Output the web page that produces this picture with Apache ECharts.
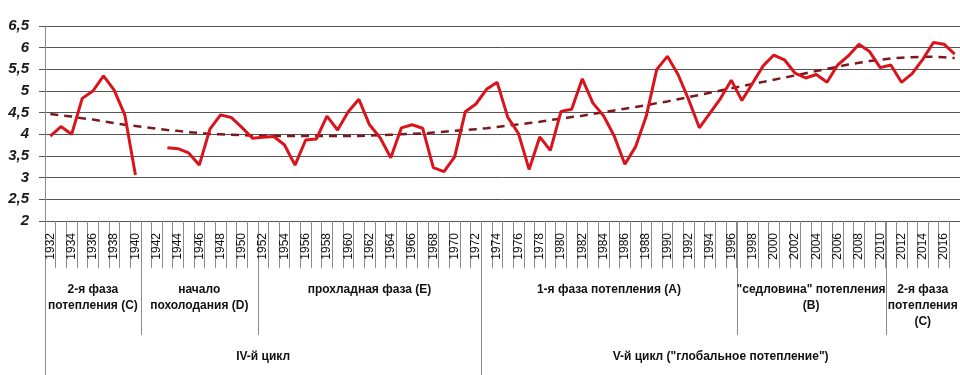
<!DOCTYPE html>
<html><head><meta charset="utf-8">
<script src="https://cdn.jsdelivr.net/npm/echarts@6/dist/echarts.min.js"></script>
<style>html,body{margin:0;padding:0;background:#fff}#c{width:960px;height:375px}</style>
</head><body><div id="c"></div>
<script>
const years = ['1932','1933','1934','1935','1936','1937','1938','1939','1940','1941','1942','1943','1944','1945','1946','1947','1948','1949','1950','1951','1952','1953','1954','1955','1956','1957','1958','1959','1960','1961','1962','1963','1964','1965','1966','1967','1968','1969','1970','1971','1972','1973','1974','1975','1976','1977','1978','1979','1980','1981','1982','1983','1984','1985','1986','1987','1988','1989','1990','1991','1992','1993','1994','1995','1996','1997','1998','1999','2000','2001','2002','2003','2004','2005','2006','2007','2008','2009','2010','2011','2012','2013','2014','2015','2016','2017'];
const values = [3.96,4.18,4.00,4.83,5.00,5.35,5.02,4.45,3.06,null,null,3.69,3.67,3.57,3.29,4.12,4.45,4.39,4.16,3.91,3.93,3.95,3.76,3.29,3.87,3.89,4.42,4.10,4.52,4.81,4.22,3.92,3.46,4.15,4.22,4.14,3.23,3.14,3.48,4.52,4.70,5.04,5.20,4.39,4.02,3.19,3.94,3.63,4.53,4.58,5.28,4.72,4.43,3.96,3.31,3.71,4.41,5.50,5.80,5.38,4.80,4.15,4.49,4.83,5.25,4.78,5.18,5.58,5.83,5.72,5.41,5.30,5.38,5.20,5.60,5.81,6.08,5.91,5.54,5.60,5.20,5.40,5.73,6.12,6.08,5.85];
const trend = [4.47,4.44,4.41,4.37,4.34,4.30,4.26,4.22,4.19,4.16,4.13,4.10,4.08,4.05,4.03,4.01,4.00,3.99,3.98,3.97,3.97,3.96,3.96,3.96,3.96,3.96,3.96,3.96,3.96,3.96,3.97,3.98,3.99,4.00,4.01,4.02,4.04,4.06,4.08,4.10,4.12,4.14,4.17,4.20,4.23,4.26,4.29,4.33,4.36,4.40,4.43,4.47,4.51,4.55,4.59,4.63,4.67,4.72,4.76,4.81,4.86,4.91,4.96,5.01,5.06,5.11,5.16,5.21,5.26,5.31,5.36,5.41,5.46,5.51,5.56,5.61,5.65,5.69,5.72,5.75,5.77,5.78,5.79,5.79,5.78,5.76];
const phaseNames = ['2-я фаза\nпотепления (С)','начало\nпохолодания (D)','прохладная фаза (Е)','1-я фаза потепления (А)','"седловина" потепления\n(В)','2-я фаза\nпотепления\n(С)'];
const phaseFirst = ['1932','1941','1952','1973','1997','2011'];
const phaseLast  = ['1940','1951','1972','1996','2010','2017'];
const cycleNames = ['IV-й цикл','V-й цикл ("глобальное потепление")'];
const cycleFirst = ['1932','1973'];
const cycleLast  = ['1972','2017'];

const chart = echarts.init(document.getElementById('c'), null, {renderer:'canvas'});
chart.setOption({
  animation:false,
  backgroundColor:'#fff',
  grid:{left:45, top:26, width:917, height:195, containLabel:false},
  xAxis:{type:'category', data:years, boundaryGap:true,
    axisLine:{show:true, lineStyle:{color:'#555'}},
    axisTick:{show:true, interval:0, length:47, lineStyle:{color:'#8a8a8a'}},
    axisLabel:{interval:1, rotate:90, margin:12, fontSize:12, fontFamily:'Liberation Sans', color:'#111'},
    splitLine:{show:false}},
  yAxis:{type:'value', min:2, max:6.5, interval:0.5,
    axisLine:{show:true, lineStyle:{color:'#8a8a8a'}},
    axisTick:{show:true, length:6, lineStyle:{color:'#555'}},
    axisLabel:{margin:16, fontSize:15, fontWeight:'bold', fontStyle:'italic', fontFamily:'Liberation Sans', color:'#1a1a1a',
      formatter:v=>String(v).replace('.',',')},
    splitLine:{show:true, lineStyle:{color:'#555', width:1}}},
  series:[
    {type:'line', data:trend, showSymbol:false, silent:true, z:2,
      lineStyle:{color:'#7a1a1f', width:2.5, type:[8,6]}},
    {type:'line', data:values, showSymbol:false, connectNulls:false, silent:true, z:3,
      lineStyle:{color:'#d9141c', width:3}}
  ]
});

const px = c => chart.convertToPixel({xAxisIndex:0}, c);
const step = px(years[1]) - px(years[0]);
const y0 = chart.convertToPixel({yAxisIndex:0}, 2);
const leftEdge = c => px(c) - step/2;
const rightEdge = c => px(c) + step/2;
const g = [];
phaseFirst.forEach((f,i)=>{
  if(i>0){
    const x = Math.round(leftEdge(f))+0.5;
    g.push({type:'line', shape:{x1:x,y1:y0,x2:x,y2:y0+114}, style:{stroke:'#8a8a8a', lineWidth:1}, silent:true});
  }
  g.push({type:'text', x:(leftEdge(f)+rightEdge(phaseLast[i]))/2, y:y0+61,
    style:{text:phaseNames[i], align:'center', verticalAlign:'top', font:'bold 12px "Liberation Sans"', fill:'#111', lineHeight:16}, silent:true});
});
cycleFirst.forEach((f,i)=>{
  const x = Math.round(leftEdge(f))+0.5;
  g.push({type:'line', shape:{x1:x,y1:y0,x2:x,y2:y0+160}, style:{stroke:'#8a8a8a', lineWidth:1}, silent:true});
  g.push({type:'text', x:(leftEdge(f)+rightEdge(cycleLast[i]))/2, y:y0+128,
    style:{text:cycleNames[i], align:'center', verticalAlign:'top', font:'bold 12px "Liberation Sans"', fill:'#111', lineHeight:16}, silent:true});
});
chart.setOption({graphic:g});
</script></body></html>
